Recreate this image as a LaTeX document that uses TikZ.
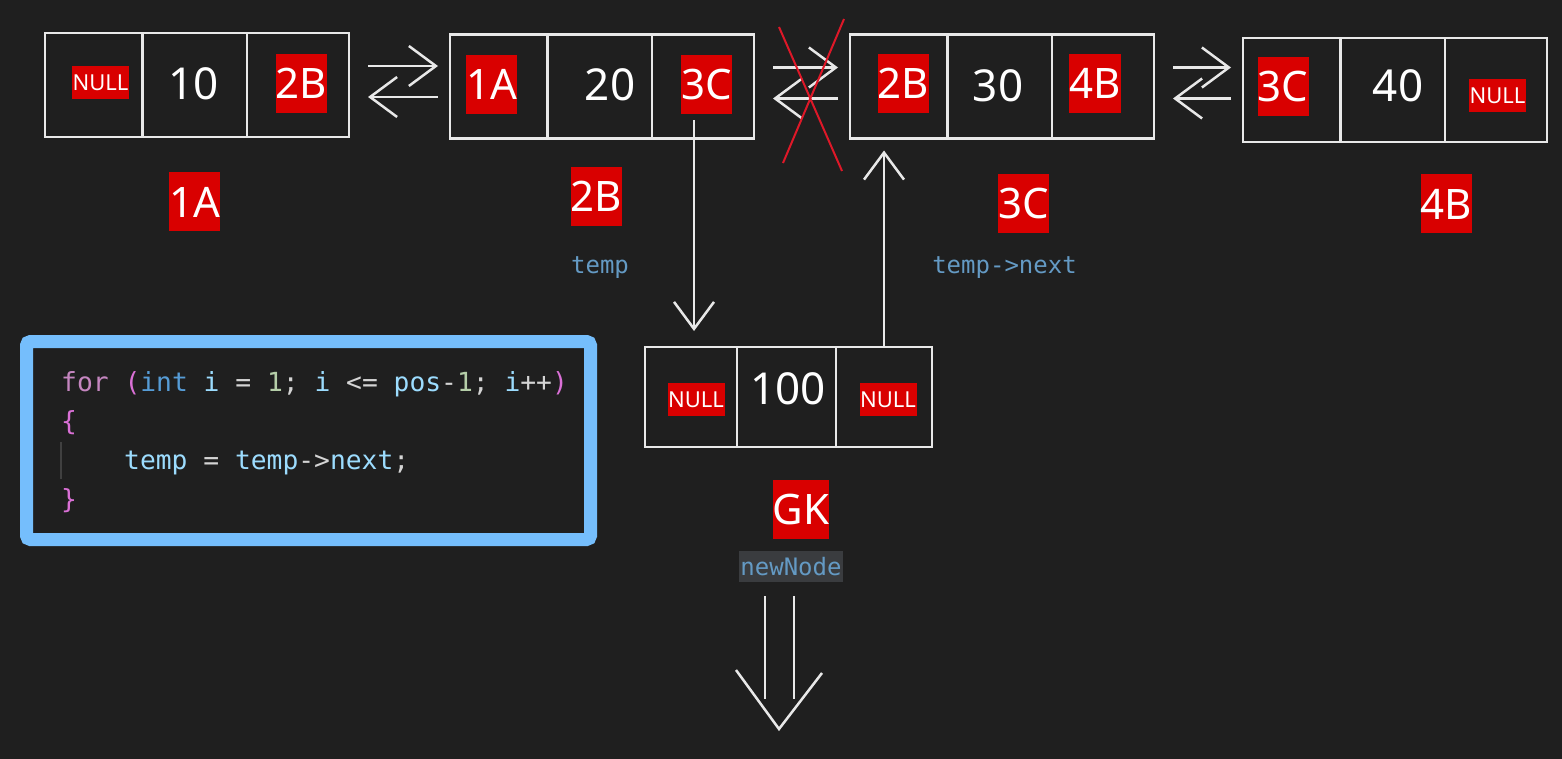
\documentclass[tikz,border=0pt]{standalone}
\usepackage{fontspec}
\setmainfont{Noto Sans}
\newfontfamily\codefont[WordSpace={1,0,0}]{DejaVu Sans Mono}
\usetikzlibrary{arrows.meta,positioning,calc}

\definecolor{bg}{RGB}{31,31,31}
\definecolor{boxred}{RGB}{217,0,0}
\definecolor{lineg}{RGB}{232,232,232}
\definecolor{crossred}{RGB}{222,24,40}
\definecolor{codeblue}{RGB}{117,190,252}
\definecolor{lblblue}{RGB}{100,154,196}
\definecolor{kwpink}{RGB}{197,134,192}
\definecolor{typblue}{RGB}{86,156,214}
\definecolor{varblue}{RGB}{156,220,254}
\definecolor{numgreen}{RGB}{181,206,168}
\definecolor{opgray}{RGB}{212,212,212}
\definecolor{brkpink}{RGB}{218,112,214}
\definecolor{guide}{RGB}{64,64,64}
\definecolor{hlgray}{RGB}{58,60,63}

\begin{document}
\begin{tikzpicture}[x=1pt,y=-1pt,
            cell/.style={draw=lineg,line width=2.5pt,outer sep=0pt,inner sep=0pt,minimum height=104pt},
            newcell/.style={cell,minimum height=100pt},
            addr/.style={fill=boxred,text=white,inner sep=0pt,minimum width=51pt,minimum height=59pt,font=\fontsize{42}{48}\selectfont},
            nul/.style={fill=boxred,text=white,inner sep=0pt,minimum width=57pt,minimum height=33pt,font=\fontsize{22}{26}\selectfont},
            val/.style={text=white,inner sep=0pt,font=\fontsize{44}{50}\selectfont},
            ptr/.style={text=lblblue,inner sep=0pt,font=\codefont\fontsize{24}{28}\selectfont},
            codeline/.style={anchor=base west,inner sep=0pt,text=opgray,font=\codefont\fontsize{26.3}{30}\selectfont},
            arr/.style={draw=lineg,line width=2.5pt,-{Straight Barb[length=27pt,width=40pt]}},
            wline/.style={draw=lineg,line width=2.5pt}
          ]
          \fill[bg] (0,0) rectangle (1562,759);

          %list nodes
          \foreach \i/\x/\y in {1/93.75/85,2/498.75/86.5,3/898.75/86.5,4/1291.75/90}{
            \node[cell,minimum width=97.5pt] (c\i p) at (\x,\y) {};
            \node[cell,minimum width=104.5pt,right=0pt of c\i p] (c\i d) {};
            \node[cell,minimum width=102pt,right=0pt of c\i d] (c\i n) {};
          }
          \node[nul] (t1p) at (100.5,82.5) {NULL};
          \node[val] (t1d) at (193.5,84) {10};
          \node[addr] (t1n) at (301.5,83.5) {2B};
          \node[addr] (t2p) at (491.5,84.5) {1A};
          \node[val] (t2d) at (610,84.5) {20};
          \node[addr] (t2n) at (706.5,84.5) {3C};
          \node[addr] (t3p) at (903.5,83.5) {2B};
          \node[val] (t3d) at (998,85.5) {30};
          \node[addr] (t3n) at (1095,83.5) {4B};
          \node[addr] (t4p) at (1283,86.5) {3C};
          \node[val] (t4d) at (1398,86) {40};
          \node[nul] (t4n) at (1497.5,95.5) {NULL};

          %addresses
          \node[addr] (a1) at (194.5,202) {1A};
          \node[addr] (a2) at (596.5,196.5) {2B};
          \node[addr] (a3) at (1023.5,203.5) {3C};
          \node[addr] (a4) at (1446.5,204) {4B};
          \node[ptr,anchor=base] (tmp) at (600,273) {temp};
          \node[ptr,anchor=base] (tmpnext) at (1004.5,273) {temp->next};

          %new node
          \node[newcell,minimum width=92pt] (m1) at (691,397) {};
          \node[newcell,minimum width=99pt,right=0pt of m1] (m2) {};
          \node[newcell,minimum width=96pt,right=0pt of m2] (m3) {};
          \node[nul] (u1) at (696,399.5) {NULL};
          \node[val] (u2) at (788,388.5) {100};
          \node[nul] (u3) at (888,399.5) {NULL};
          \node[addr] (gk) at (801,509.5) {GK};
          \node[ptr,fill=hlgray,minimum width=104pt,minimum height=31pt] (nn) at (791,566.5) {newNode};

          %code
          \node[draw=codeblue,line width=13pt,fill=bg,rounded corners=4pt,minimum width=564pt,minimum height=198pt] (codebox) at (308.5,440.5) {};
          \draw[guide,line width=1.5pt] (61,442) -- (61,479);
          \node[codeline] (l1) at (61,391) {\textcolor{kwpink}{for} \textcolor{brkpink}{(}\textcolor{typblue}{int} \textcolor{varblue}{i} = \textcolor{numgreen}{1}; \textcolor{varblue}{i} <= \textcolor{varblue}{pos}-\textcolor{numgreen}{1}; \textcolor{varblue}{i}++\textcolor{brkpink}{)}};
          \node[codeline] (l2) at (61,430) {\textcolor{brkpink}{\{}};
          \node[codeline] (l3) at (124,469) {\textcolor{varblue}{temp} = \textcolor{varblue}{temp}->\textcolor{varblue}{next};};
          \node[codeline] (l4) at (61,508) {\textcolor{brkpink}{\}}};

          %links
          \foreach \a/\b in {c1n/c2p,c2n/c3p,c3n/c4p}{
            \draw[arr] ($(\a.east)+(19,-19)$) -- ($(\b.west |- \a.east)+(-12,-19)$);
            \draw[arr] ($(\b.west |- \a.east)+(-12,12)$) -- ($(\a.east)+(19,12)$);
          }
          \draw[crossred,line width=2pt] (779,27) -- (842,171) (844,19) -- (783,163);
          \draw[arr] ($(m1.north |- t2n.south)+(3,6)$) -- ($(m1.north)+(3,-16)$);
          \draw[arr] (m3.north) -- ($(m3.north |- c3p.south)+(0,12)$);

          %big arrow
          \draw[wline] (765,596) -- (765,699) (794,596) -- (794,699);
          \draw[wline] (736,670) -- (779,729) -- (822,673);
      \end{tikzpicture}
\end{document}
